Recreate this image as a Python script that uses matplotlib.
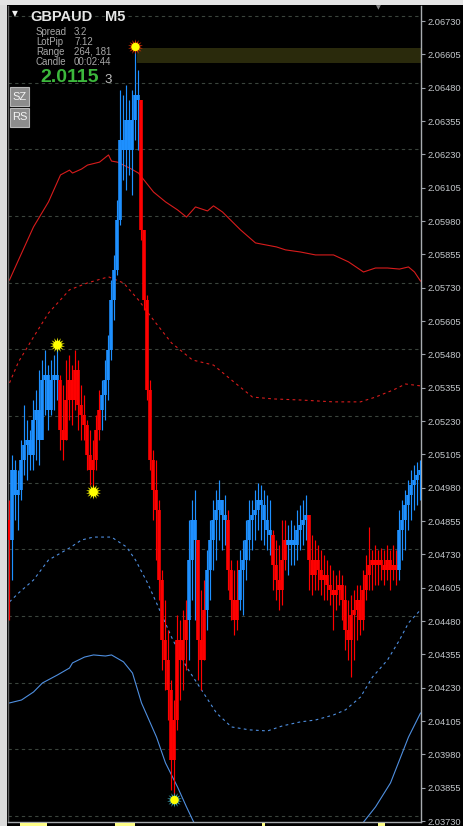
import matplotlib
matplotlib.use("Agg")
import matplotlib.pyplot as plt
import numpy as np
from matplotlib.patches import Rectangle

# ---------------- data ----------------
symbol = "GBPAUD"
timeframe = "M5"
info_labels = ["Spread", "LotPip", "Range", "Candle"]
info_values = ["3.2", "7.12", "264, 181", "00:02:44"]
price_big = "2.0115"
price_small = "3"

first_open = 2.04859
high = [2.04934, 2.05103, 2.05084, 2.05047, 2.05159, 2.05290, 2.05234, 2.05197, 2.05309, 2.05347,
        2.05422, 2.05459, 2.05497, 2.05440, 2.05459, 2.05478, 2.05515, 2.05403, 2.05365, 2.05459,
        2.05478, 2.05440, 2.05497, 2.05459, 2.05365, 2.05328, 2.05234, 2.05197, 2.05159, 2.05253,
        2.05347, 2.05384, 2.05459, 2.05553, 2.05759, 2.05853, 2.06059, 2.06472, 2.06453, 2.06490,
        2.06434, 2.06472, 2.06633, 2.06547, 2.06284, 2.05947, 2.05703, 2.05384, 2.05122, 2.05084,
        2.04934, 2.04672, 2.04559, 2.04447, 2.04259, 2.04184, 2.04503, 2.04484, 2.04522, 2.04559,
        2.04859, 2.04934, 2.04972, 2.04672, 2.04597, 2.04634, 2.04747, 2.04859, 2.04934, 2.04972,
        2.05009, 2.04934, 2.04953, 2.04897, 2.04709, 2.04672, 2.04709, 2.04747, 2.04784, 2.04859,
        2.04934, 2.04934, 2.04972, 2.04998, 2.04990, 2.04972, 2.04953, 2.04934, 2.04822, 2.04784,
        2.04765, 2.04859, 2.04859, 2.04840, 2.04859, 2.04840, 2.04897, 2.04915, 2.04934, 2.04953,
        2.04859, 2.04803, 2.04784, 2.04765, 2.04747, 2.04728, 2.04709, 2.04690, 2.04672, 2.04653,
        2.04672, 2.04653, 2.04615, 2.04559, 2.04578, 2.04597, 2.04615, 2.04615, 2.04672, 2.04728,
        2.04833, 2.04747, 2.04765, 2.04747, 2.04754, 2.04747, 2.04765, 2.04747, 2.04765, 2.04747,
        2.04897, 2.04934, 2.04972, 2.05009, 2.05047, 2.05065, 2.05077, 2.05084]
low = [2.04484, 2.04634, 2.04859, 2.04822, 2.04934, 2.05028, 2.05009, 2.05047, 2.05047, 2.05084,
       2.05065, 2.05197, 2.05253, 2.05197, 2.05253, 2.05272, 2.05309, 2.05122, 2.05084, 2.05159,
       2.05234, 2.05215, 2.05272, 2.05197, 2.05159, 2.05159, 2.05047, 2.04990, 2.04964, 2.05047,
       2.05159, 2.05197, 2.05234, 2.05309, 2.05459, 2.05609, 2.05778, 2.05965, 2.06134, 2.06097,
       2.06153, 2.06078, 2.06284, 2.06247, 2.05909, 2.05647, 2.05309, 2.05047, 2.04859, 2.04709,
       2.04559, 2.04297, 2.04222, 2.04109, 2.03847, 2.03809, 2.04072, 2.04184, 2.04222, 2.04297,
       2.04334, 2.04559, 2.04484, 2.04259, 2.04222, 2.04334, 2.04447, 2.04559, 2.04672, 2.04709,
       2.04784, 2.04747, 2.04765, 2.04597, 2.04484, 2.04428, 2.04447, 2.04522, 2.04503, 2.04634,
       2.04709, 2.04747, 2.04784, 2.04822, 2.04784, 2.04765, 2.04747, 2.04728, 2.04597, 2.04559,
       2.04522, 2.04540, 2.04672, 2.04653, 2.04690, 2.04690, 2.04709, 2.04747, 2.04765, 2.04784,
       2.04597, 2.04578, 2.04597, 2.04597, 2.04578, 2.04559, 2.04559, 2.04540, 2.04447, 2.04522,
       2.04540, 2.04484, 2.04372, 2.04334, 2.04270, 2.04334, 2.04409, 2.04428, 2.04447, 2.04559,
       2.04597, 2.04597, 2.04615, 2.04615, 2.04634, 2.04615, 2.04634, 2.04597, 2.04634, 2.04615,
       2.04634, 2.04709, 2.04747, 2.04822, 2.04859, 2.04897, 2.04915, 2.04934]
close = [2.04784, 2.05047, 2.04953, 2.04972, 2.05084, 2.05140, 2.05159, 2.05103, 2.05234, 2.05272,
         2.05159, 2.05384, 2.05403, 2.05272, 2.05384, 2.05403, 2.05384, 2.05197, 2.05159, 2.05309,
         2.05384, 2.05309, 2.05422, 2.05290, 2.05253, 2.05215, 2.05103, 2.05047, 2.05084, 2.05197,
         2.05272, 2.05328, 2.05384, 2.05497, 2.05684, 2.05797, 2.05984, 2.06284, 2.06247, 2.06359,
         2.06247, 2.06359, 2.06453, 2.06434, 2.05947, 2.05684, 2.05347, 2.05084, 2.04972, 2.04897,
         2.04634, 2.04409, 2.04334, 2.04222, 2.03959, 2.04109, 2.04409, 2.04334, 2.04409, 2.04484,
         2.04709, 2.04859, 2.04784, 2.04409, 2.04334, 2.04522, 2.04672, 2.04784, 2.04859, 2.04897,
         2.04934, 2.04878, 2.04859, 2.04672, 2.04559, 2.04484, 2.04559, 2.04672, 2.04709, 2.04784,
         2.04859, 2.04878, 2.04897, 2.04934, 2.04915, 2.04859, 2.04822, 2.04803, 2.04690, 2.04634,
         2.04597, 2.04709, 2.04784, 2.04765, 2.04784, 2.04765, 2.04822, 2.04840, 2.04859, 2.04878,
         2.04709, 2.04653, 2.04709, 2.04672, 2.04634, 2.04653, 2.04615, 2.04597, 2.04578, 2.04597,
         2.04615, 2.04559, 2.04447, 2.04409, 2.04503, 2.04522, 2.04559, 2.04484, 2.04597, 2.04653,
         2.04690, 2.04709, 2.04690, 2.04709, 2.04690, 2.04672, 2.04709, 2.04672, 2.04690, 2.04672,
         2.04822, 2.04859, 2.04915, 2.04953, 2.04990, 2.05009, 2.05028, 2.05047]
# trend colouring as (trend, number of bars) runs
trend_runs = [("down", 1), ("up", 16), ("down", 14), ("up", 13), ("down", 16), ("up", 3),
              ("down", 3), ("up", 7), ("down", 4), ("up", 11), ("down", 5), ("up", 7),
              ("down", 30), ("up", 8)]

# envelope bands (bar index -> price)
upper_idx = [0, 3, 8, 13, 17, 20, 21, 24, 26, 30, 33, 34, 36, 40, 43, 48, 52, 56, 59, 62, 66, 68,
             71, 77, 82, 89, 92, 97, 102, 108, 113, 118, 122, 126, 130, 133, 135, 137]
upper_outer = [2.05759, 2.05834, 2.05958, 2.06052, 2.06153, 2.06171, 2.06160, 2.06175, 2.06190,
               2.06201, 2.06228, 2.06205, 2.06201, 2.06179, 2.06160, 2.06089, 2.06052, 2.06022,
               2.05995, 2.06033, 2.06018, 2.06037, 2.06014, 2.05947, 2.05898, 2.05883, 2.05872,
               2.05864, 2.05853, 2.05853, 2.05827, 2.05789, 2.05804, 2.05804, 2.05800, 2.05808,
               2.05789, 2.05755]
upper_in_idx = [0, 3, 8, 13, 20, 26, 33, 38, 43, 48, 54, 61, 68, 74, 81, 88, 97, 108, 117, 122,
                128, 132, 137]
upper_inner = [2.05373, 2.05452, 2.05545, 2.05635, 2.05722, 2.05748, 2.05771, 2.05748, 2.05684,
               2.05609, 2.05523, 2.05459, 2.05440, 2.05384, 2.05320, 2.05313, 2.05309, 2.05302,
               2.05302, 2.05320, 2.05347, 2.05369, 2.05362]
lower_in_idx = [0, 3, 8, 13, 20, 24, 28, 34, 39, 42, 46, 49, 54, 59, 64, 69, 74, 80, 86, 91, 97,
                102, 108, 112, 117, 121, 126, 130, 133, 137]
lower_inner = [2.04552, 2.04585, 2.04634, 2.04709, 2.04754, 2.04784, 2.04795, 2.04795, 2.04758,
               2.04709, 2.04623, 2.04548, 2.04420, 2.04308, 2.04222, 2.04135, 2.04083, 2.04072,
               2.04068, 2.04087, 2.04102, 2.04109, 2.04128, 2.04147, 2.04195, 2.04270, 2.04334,
               2.04409, 2.04473, 2.04522]
lower_out_idx = [0, 4, 8, 11, 16, 20, 21, 25, 28, 32, 34, 38, 41, 44, 49, 52, 56, 59, 62, 90,
                 118, 122, 127, 130, 133, 137]
lower_outer = [2.04173, 2.04184, 2.04214, 2.04248, 2.04278, 2.04304, 2.04323, 2.04345, 2.04353,
               2.04349, 2.04353, 2.04327, 2.04285, 2.04173, 2.04045, 2.03948, 2.03858, 2.03783,
               2.03712, np.nan, 2.03726, 2.03783, 2.03873, 2.03959, 2.04045, 2.04135]

# swing markers
swing_idx = [16, 28, 42, 55]
swing_price = [2.05515, 2.04964, 2.06633, 2.03809]
swing_ring = ["#f0f000", "#f0f000", "#e03000", "#3aa0b0"]

# range box
box_start = 42.5
box_low, box_high = 2.06573, 2.06628

tick_start, tick_step, tick_count = 2.03730, 0.00125, 25

# ---------------- figure ----------------
W, H = 464, 826
fig = plt.figure(figsize=(W / 100, H / 100), dpi=100, facecolor="black")
ax = fig.add_axes([8 / W, 1 - 822 / H, 413 / W, 816 / H], facecolor="black")

def fx(x):
    return x / W

def fy(y):
    return 1 - y / H

n = len(close)
idx = np.arange(n)
high = np.array(high); low = np.array(low); close = np.array(close)
opens = np.r_[first_open, close[:-1]]
cols = []
for t, k in trend_runs:
    cols += ["#1e90ff" if t == "up" else "#ff0000"] * k

ticks = tick_start + tick_step * np.arange(tick_count)
# grid (MT4 style: every other level, slightly offset)
for t in ticks[::-2]:
    ax.axhline(t + 0.000188, color="#3a443c", lw=0.8, ls=(0, (3, 3)), zorder=0)

ax.add_patch(Rectangle((box_start, box_low), 200, box_high - box_low,
                       facecolor="#2a2a0c", edgecolor="none", zorder=1))

ax.plot(upper_idx, upper_outer, color="#d81c1c", lw=0.8, zorder=2)
ax.plot(upper_in_idx, upper_inner, color="#d81c1c", lw=0.8, ls=(0, (2.5, 3)), zorder=2)
ax.plot(lower_in_idx, lower_inner, color="#4f8fe0", lw=0.8, ls=(0, (2.5, 3)), zorder=2)
ax.plot(lower_out_idx, lower_outer, color="#4f8fe0", lw=0.8, zorder=2)

ax.vlines(idx, low, high, colors=cols, lw=0.85, zorder=3)
ax.vlines(idx, np.minimum(opens, close), np.maximum(opens, close), colors=cols, lw=2.6, zorder=3)

for xi, pi, rc in zip(swing_idx, swing_price, swing_ring):
    ax.scatter([xi], [pi], marker=(14, 1, 0), s=120, c=rc, edgecolors="none", zorder=5)
    ax.scatter([xi], [pi], marker="o", s=36, c="#ffff00", edgecolors="none", zorder=6)

ax.set_xlim(-0.5, (421 - 9.5) / 3)
ax.set_ylim(2.037265, 2.067865)
ax.set_xticks([])
ax.yaxis.tick_right()
ax.set_yticks(ticks)
ax.set_yticklabels([f"{t:.5f}" for t in ticks])
ax.tick_params(axis="y", colors="#9aa0a8", length=3, width=0.8, pad=2,
               labelsize=6.7, labelcolor="#c4c8cc")
for lab in ax.get_yticklabels():
    lab.set_fontfamily("Liberation Sans")
ax.spines["top"].set_visible(False)
ax.spines["right"].set_color("#a8acb0")
ax.spines["bottom"].set_color("#a8acb0")
ax.spines["left"].set_color("#606060")
for s in ["right", "bottom", "left"]:
    ax.spines[s].set_linewidth(1.0)

# window chrome
fig.patches.append(Rectangle((0, 0), fx(7), 1, transform=fig.transFigure,
                             facecolor="#dcdcdc", edgecolor="none", zorder=1))
fig.patches.append(Rectangle((0, fy(5)), 1, 5 / H, transform=fig.transFigure,
                             facecolor="#e4e4e4", edgecolor="none", zorder=1))
for x0, x1 in [(20, 47), (115, 135), (262, 265), (378, 385)]:
    fig.patches.append(Rectangle((fx(x0), 0), (x1 - x0) / W, 3 / H, transform=fig.transFigure,
                                 facecolor="#ffff88", edgecolor="none", zorder=2))

# header texts
fig.text(fx(12), fy(14), "▼", color="#f0f0f0", fontsize=5.5, va="center", ha="left",
         family="DejaVu Sans", zorder=10)
fig.text(fx(378), fy(8), "▼", color="#8a8a8a", fontsize=4.5, va="center", ha="center",
         family="DejaVu Sans", zorder=10)
fig.text(fx(30), fy(17), symbol, color="#e6e6e6", fontsize=10.5, fontweight="bold",
         family="Liberation Sans", va="center", ha="left", zorder=10)
fig.text(fx(105), fy(17), timeframe, color="#e6e6e6", fontsize=10.5, fontweight="bold",
         family="Liberation Sans", va="center", ha="left", zorder=10)
for k, (lab, val) in enumerate(zip(info_labels, info_values)):
    yy = 32 + 10 * k
    fig.text(fx(36), fy(yy), lab, color="#a8a8a8", fontsize=6.9, family="Liberation Sans",
             va="center", ha="left", zorder=10)
    fig.text(fx(74), fy(yy), val, color="#a8a8a8", fontsize=6.9, family="Liberation Sans",
             va="center", ha="left", zorder=10)
fig.text(fx(40), fy(78), price_big, color="#3cb83c", fontsize=14, fontweight="bold",
         family="Liberation Sans", va="center", ha="left", zorder=10)
fig.text(fx(104), fy(80), price_small, color="#c0c0c0", fontsize=9.5,
         family="Liberation Sans", va="center", ha="left", zorder=10)

# buttons
for lab, y0 in [("SZ", 87), ("RS", 108)]:
    fig.patches.append(Rectangle((fx(10), fy(y0 + 19)), 19 / W, 19 / H, transform=fig.transFigure,
                                 facecolor="#8c8c8c", edgecolor="#b8b8b8", lw=0.8, zorder=9))
    fig.text(fx(19.5), fy(y0 + 9.5), lab, color="#f4f4f4", fontsize=8, family="Liberation Sans",
             va="center", ha="center", zorder=10)

fig.savefig("out.png", dpi=100, facecolor="black")
